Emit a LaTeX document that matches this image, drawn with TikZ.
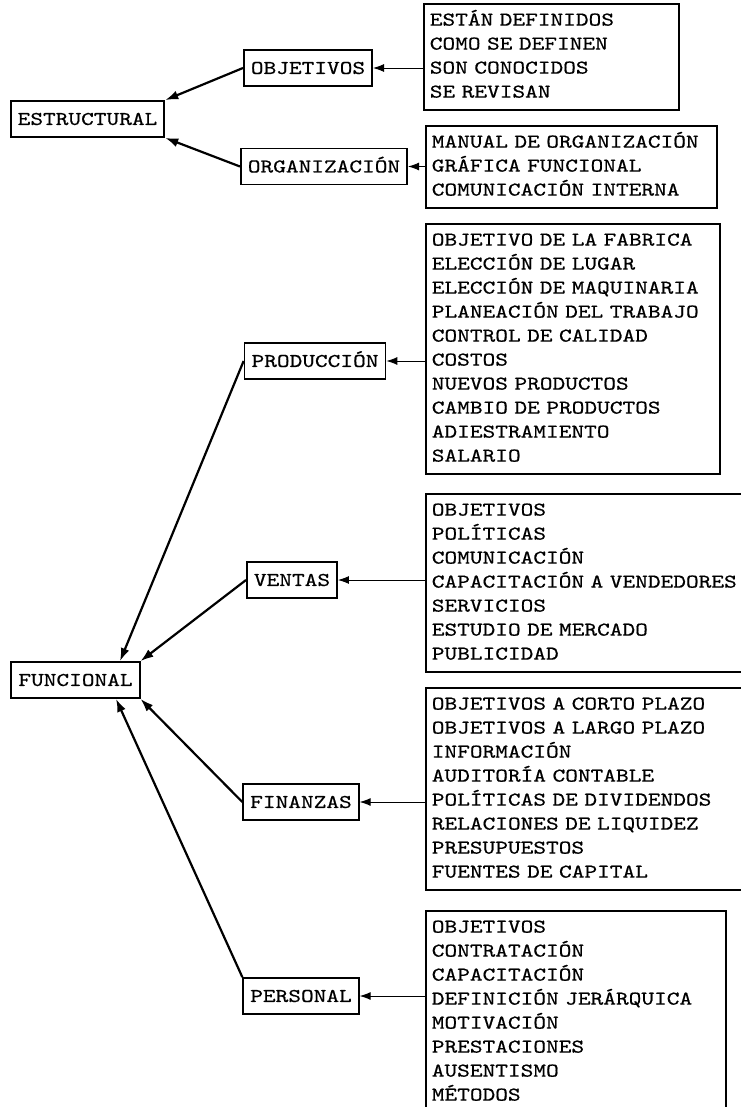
\documentclass[tikz,border=0pt]{standalone}
\usepackage{fontspec}
\usepackage{tikz}
\usetikzlibrary{arrows.meta}
\newfontfamily\maquina{lmmono10-regular.otf}[FakeStretch=1.24,FakeBold=0.6]
\tikzstyle{areanode} = [draw,line width=1.8pt,font=\maquina\fontsize{19.5}{24}\selectfont,minimum height=36pt,inner xsep=7pt,text height=11.9pt,text depth=0pt]
\tikzstyle{listnode} = [draw,line width=1.6pt,font=\maquina\fontsize{19.5}{24}\selectfont,anchor=north west,align=left,inner xsep=6pt,inner ysep=5pt,execute at begin node=\strut,execute at end node=\strut]
\tikzstyle{mainarrow} = [line width=2.2pt,-{Latex[length=13pt,width=9pt]}]
\tikzstyle{listarrow} = [line width=0.9pt,-{Latex[length=11pt,width=8pt]}]

\begin{document}
\begin{tikzpicture}[x=1pt,y=-1pt]
	\useasboundingbox (0,0) rectangle (740,1107);
	
	%% nodes
	\node[areanode] (estructural) at (87.5,119) {ESTRUCTURAL};
	\node[areanode] (objetivos) at (308,68) {OBJETIVOS}; \node[areanode] (organizacion) at (324,166.5) {ORGANIZACIÓN};
	\node[areanode] (funcional) at (75.5,680) {FUNCIONAL};
	\node[areanode] (produccion) at (315,361) {PRODUCCIÓN}; \node[areanode] (ventas) at (292,580) {VENTAS};
	\node[areanode] (finanzas) at (301,802) {FINANZAS}; \node[areanode] (personal) at (301,996) {PERSONAL};
	
	%% lists
	\node[listnode,text width=243pt] (lobjetivos) at (423,3) {ESTÁN DEFINIDOS\\COMO SE DEFINEN\\SON CONOCIDOS\\SE REVISAN};
	\node[listnode,text width=279pt] (lorganizacion) at (425,125) {MANUAL DE ORGANIZACIÓN\\GRÁFICA FUNCIONAL\\COMUNICACIÓN INTERNA};
	\node[listnode,text width=282pt] (lproduccion) at (425,223) {OBJETIVO DE LA FABRICA\\ELECCIÓN DE LUGAR\\ELECCIÓN DE MAQUINARIA\\PLANEACIÓN DEL TRABAJO\\CONTROL DE CALIDAD\\COSTOS\\NUEVOS PRODUCTOS\\CAMBIO DE PRODUCTOS\\ADIESTRAMIENTO\\SALARIO};
	\node[listnode,text width=330pt] (lventas) at (425,493) {OBJETIVOS\\POLÍTICAS\\COMUNICACIÓN\\CAPACITACIÓN A VENDEDORES\\SERVICIOS\\ESTUDIO DE MERCADO\\PUBLICIDAD};
	\node[listnode,text width=330pt] (lfinanzas) at (425,687) {OBJETIVOS A CORTO PLAZO\\OBJETIVOS A LARGO PLAZO\\INFORMACIÓN\\AUDITORÍA CONTABLE\\POLÍTICAS DE DIVIDENDOS\\RELACIONES DE LIQUIDEZ\\PRESUPUESTOS\\FUENTES DE CAPITAL};
	\node[listnode,text width=288pt] (lpersonal) at (425,910) {OBJETIVOS\\CONTRATACIÓN\\CAPACITACIÓN\\DEFINICIÓN JERÁRQUICA\\MOTIVACIÓN\\PRESTACIONES\\AUSENTISMO\\MÉTODOS};
	
	%% edges
	\draw[mainarrow] (objetivos.west) -- (estructural.north east);
	\draw[mainarrow] (organizacion.west) -- (estructural.south east);
	\draw[mainarrow] (produccion.west) -- (funcional.23);
	\draw[mainarrow] (ventas.west) -- (funcional.north east);
	\draw[mainarrow] (finanzas.west) -- (funcional.south east);
	\draw[mainarrow] (personal.north west) -- (funcional.-25);
	\foreach \a/\l in {objetivos/lobjetivos,organizacion/lorganizacion,produccion/lproduccion,ventas/lventas,finanzas/lfinanzas,personal/lpersonal}
		\draw[listarrow] (\l.west |- \a.east) -- (\a.east);
\end{tikzpicture}
\end{document}
